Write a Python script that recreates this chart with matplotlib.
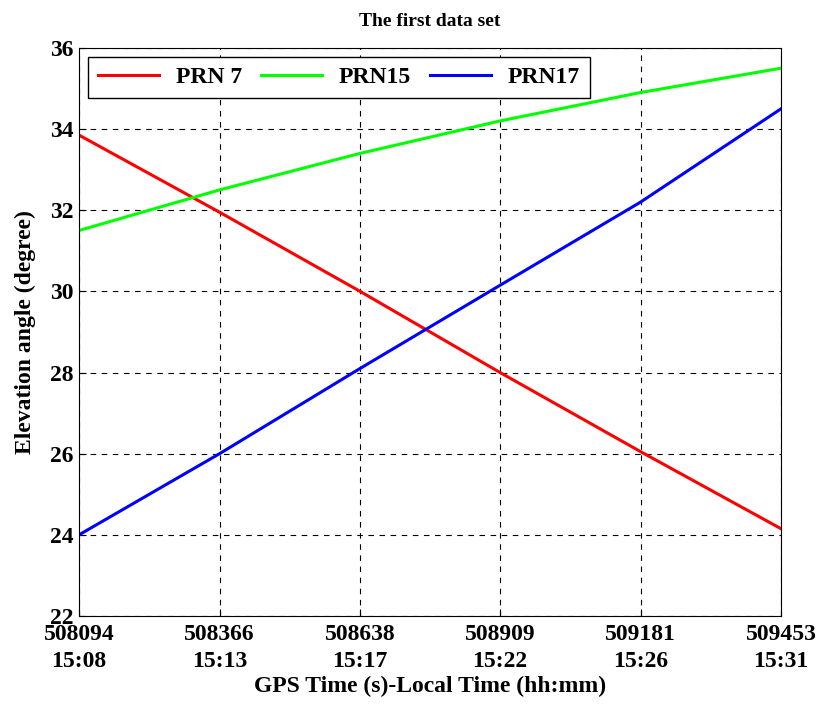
import matplotlib
matplotlib.use('Agg')
import matplotlib.pyplot as plt
import numpy as np

# GPS time (s) at the tick positions and read-off elevation angles
gps_time = [508094, 508366, 508638, 508909, 509181, 509453]
local_time = ['15:08', '15:13', '15:17', '15:22', '15:26', '15:31']
prn7 = [33.85, 31.95, 30.0, 28.0, 26.05, 24.15]
prn15 = [31.5, 32.5, 33.4, 34.2, 34.9, 35.5]
prn17 = [24.0, 26.0, 28.1, 30.15, 32.2, 34.5]

plt.rcParams['font.family'] = ['Liberation Serif', 'DejaVu Serif']
plt.rcParams['font.weight'] = 'bold'

fig = plt.figure(figsize=(8.25, 7.04), dpi=100)
ax = fig.add_axes([0.0958, 0.125, 0.851, 0.807])

ax.plot(gps_time, prn7, color='#ff0000', linewidth=2.2, label='PRN 7')
ax.plot(gps_time, prn15, color='#00ff00', linewidth=2.2, label='PRN15')
ax.plot(gps_time, prn17, color='#0000ff', linewidth=2.2, label='PRN17')

ax.set_xlim(gps_time[0], gps_time[-1])
ax.set_ylim(22, 36)
ax.set_xticks(gps_time)
ax.set_xticklabels([f'{t}\n{l}' for t, l in zip(gps_time, local_time)],
                   fontsize=17, fontweight='bold', linespacing=1.35)
ax.set_yticks(np.arange(22, 37, 2))
ax.set_yticklabels([str(v) for v in range(22, 37, 2)], fontsize=17, fontweight='bold')
ax.tick_params(axis='x', direction='in', length=5, width=0.8, pad=6)
ax.tick_params(axis='y', direction='in', length=5, width=0.8, pad=4)
ax.grid(True, linestyle=(0, (5, 5)), color='black', linewidth=0.8)

ax.set_xlabel('GPS Time (s)-Local Time (hh:mm)', fontsize=17, fontweight='bold', labelpad=3)
ax.set_ylabel('Elevation angle (degree)', fontsize=17, fontweight='bold', labelpad=10)
ax.set_title('The first data set', fontsize=14, fontweight='bold', pad=16)

leg = ax.legend(loc='upper left', ncol=3, fontsize=17, frameon=True, fancybox=False,
                edgecolor='black', handlelength=2.6, columnspacing=0.8,
                handletextpad=0.7, borderaxespad=0.4, framealpha=1)
leg.get_frame().set_linewidth(1.0)
for t in leg.get_texts():
    t.set_fontweight('bold')

plt.savefig('out.png', dpi=100)
